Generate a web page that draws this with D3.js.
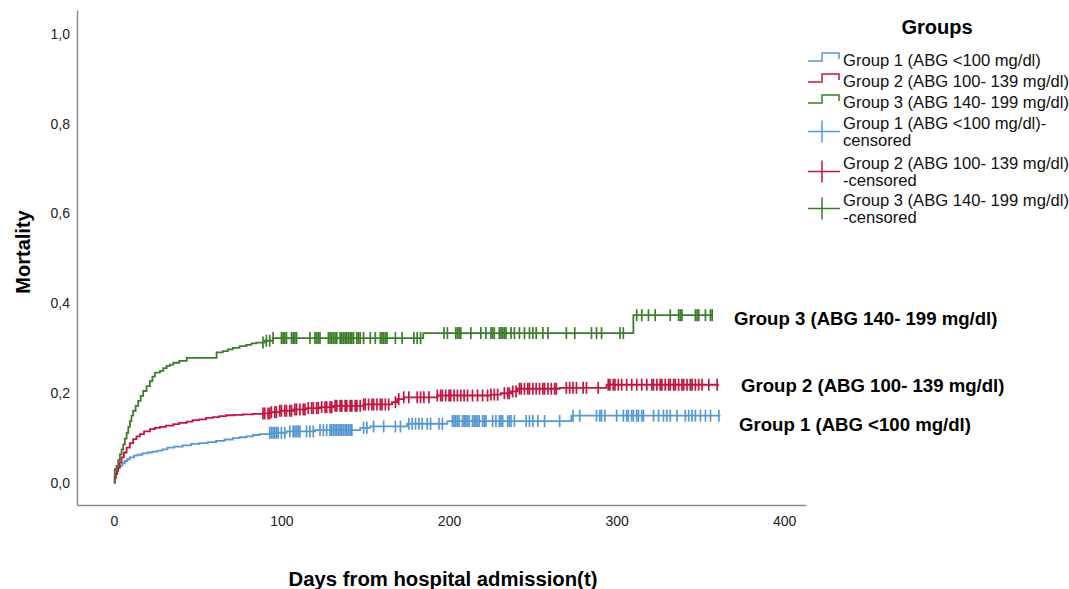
<!DOCTYPE html>
<html>

<head>
  <title>Mortality by ABG group</title>
  <style>
    body { margin: 0; background: #fff; }
    text { font-family: "Liberation Sans", Arial, sans-serif; }
  </style>
</head>

<body>
  <svg id="svg"></svg>

  <script src="https://d3js.org/d3.v7.min.js"></script>
  <script>
    let width = 1069, height = 589;

    // group names
    let groupNames = ["Group 1 (ABG <100 mg/dl)", "Group 2 (ABG 100- 139 mg/dl)", "Group 3 (ABG 140- 199 mg/dl)"];

    // step points: day of event and cumulative mortality after it
    let g1Days = [0, 0.5, 1.5, 2.5, 3.5, 5, 6.5, 8, 9.5, 12, 14, 17, 20, 23, 26, 29, 32, 36, 41, 46, 51, 56, 61, 66, 71, 75, 79, 83, 87, 93, 103, 120, 147, 153, 175, 199, 273];
    let g1Mort = [0, 0.019, 0.03, 0.034, 0.037, 0.043, 0.048, 0.052, 0.056, 0.06, 0.062, 0.065, 0.067, 0.069, 0.071, 0.074, 0.078, 0.08, 0.083, 0.086, 0.088, 0.09, 0.093, 0.096, 0.099, 0.101, 0.103, 0.106, 0.108, 0.111, 0.114, 0.117, 0.122, 0.125, 0.131, 0.137, 0.149];
    let g1End = 362;

    let g2Days = [0, 0.5, 1.2, 2, 2.6, 3.5, 4.6, 6, 7.6, 9.5, 11.5, 13.5, 15.5, 18, 21.5, 24.5, 27.5, 31, 35.5, 39, 43.5, 47, 51, 55, 59, 63, 67, 72, 77, 83, 89, 94, 99, 107, 115, 123, 131, 149, 166, 169, 173, 193, 225, 231, 237, 241, 266, 294];
    let g2Mort = [0, 0.01, 0.019, 0.026, 0.033, 0.045, 0.056, 0.067, 0.078, 0.088, 0.097, 0.103, 0.108, 0.114, 0.119, 0.122, 0.124, 0.127, 0.13, 0.133, 0.136, 0.139, 0.141, 0.144, 0.146, 0.148, 0.15, 0.151, 0.152, 0.153, 0.154, 0.157, 0.16, 0.163, 0.166, 0.168, 0.171, 0.174, 0.179, 0.186, 0.19, 0.194, 0.196, 0.199, 0.203, 0.209, 0.211, 0.218];
    let g2End = 361;

    let g3Days = [0, 0.6, 1.6, 2.6, 3.6, 4.6, 5.6, 6.6, 7.6, 8.6, 9.6, 10.5, 11.5, 13, 14.5, 16, 17.5, 19.5, 21.5, 23, 24.5, 27.5, 29.5, 31.5, 33.5, 35.5, 39, 43.5, 61.3, 65, 68, 71, 75, 79, 82, 85, 90, 95, 184.6, 310];
    let g3Mort = [0, 0.03, 0.037, 0.05, 0.063, 0.074, 0.085, 0.098, 0.111, 0.124, 0.137, 0.149, 0.16, 0.171, 0.182, 0.193, 0.204, 0.215, 0.226, 0.236, 0.245, 0.249, 0.255, 0.26, 0.263, 0.267, 0.271, 0.278, 0.29, 0.293, 0.297, 0.3, 0.304, 0.307, 0.31, 0.312, 0.316, 0.322, 0.333, 0.373];
    let g3End = 357.6;

    // censored observations (days)
    let g1Censor = [93, 94, 95, 96, 97, 98, 100, 102, 105, 107, 108, 109, 110, 111, 115, 117, 119, 123, 125, 127, 129, 130, 131, 132, 133, 134, 135, 136, 137, 138, 139, 140, 141, 142, 149, 151, 155, 161, 168, 171, 176, 178, 180, 182, 184, 187, 189, 194, 196, 202, 203, 204, 205, 206, 208, 209, 210, 211, 212, 214, 215, 216, 217, 218, 220, 221, 222, 226, 228, 230, 231, 232, 235, 236, 237, 239, 246, 248, 250, 253, 257, 266, 274, 278, 288, 290, 291, 293, 300, 304, 306, 307, 309, 310, 312, 313, 315, 316, 322, 325, 328, 330, 332, 336, 341, 343, 345, 347, 350, 353, 356, 361];
    let g2Censor = [89, 90, 92, 93, 94, 96, 97, 99, 100, 102, 103, 105, 106, 108, 109, 111, 113, 114, 116, 118, 119, 121, 122, 124, 126, 127, 129, 130, 132, 133, 135, 136, 138, 139, 141, 142, 144, 145, 147, 149, 150, 152, 154, 155, 157, 159, 160, 162, 164, 168, 170, 173, 176, 181, 183, 185, 188, 193, 195, 196, 198, 200, 201, 203, 205, 207, 209, 211, 214, 217, 220, 223, 225, 227, 229, 233, 235, 236, 238, 240, 242, 243, 245, 247, 248, 250, 252, 254, 256, 257, 259, 261, 263, 264, 270, 272, 274, 276, 280, 282, 289, 295, 296, 298, 299, 301, 303, 306, 309, 312, 315, 318, 321, 322, 324, 326, 327, 329, 331, 332, 334, 335, 337, 339, 340, 342, 344, 345, 347, 349, 351, 355, 360];
    let g3Censor = [89, 91, 93, 95, 100, 101, 102, 103, 106, 107, 108, 109, 117, 120, 121, 122, 123, 128, 129, 130, 131, 132, 133, 135, 136, 137, 138, 139, 140, 141, 142, 143, 145, 146, 147, 149, 153, 156, 159, 160, 161, 162, 163, 168, 172, 179, 181, 183, 197, 199, 204, 205, 206, 207, 213, 219, 222, 225, 226, 227, 230, 231, 232, 233, 234, 237, 239, 242, 245, 248, 250, 252, 256, 259, 270, 275, 285, 288, 291, 302, 304, 312, 315, 319, 323, 332, 337, 338, 339, 347, 348, 349, 353, 356, 357];

    let xTicks = [0, 100, 200, 300, 400];
    let yTicks = [0, 0.2, 0.4, 0.6, 0.8, 1.0];

    let colors = ["#5797d3", "#c4143f", "#3c7d2c"];

    let groups = [
      { days: g1Days, mort: g1Mort, end: g1End, censor: g1Censor },
      { days: g2Days, mort: g2Mort, end: g2End, censor: g2Censor },
      { days: g3Days, mort: g3Mort, end: g3End, censor: g3Censor }
    ];

    let svg = d3.select("#svg")
      .attr("width", width)
      .attr("height", height);

    svg.append("rect").attr("width", width).attr("height", height).attr("fill", "#fff");

    let x = d3.scaleLinear().domain([-22, 413]).range([77, 806]);
    let y = d3.scaleLinear().domain([-0.05, 1.053]).range([505, 10]);

    // axes
    let xAxis = svg.append("g")
      .attr("transform", `translate(0, ${y.range()[0]})`)
      .call(d3.axisBottom(x).tickValues(xTicks).tickSize(0).tickPadding(11).tickSizeOuter(0));

    let yAxis = svg.append("g")
      .attr("transform", `translate(${x.range()[0]}, 0)`)
      .call(d3.axisLeft(y).tickValues(yTicks).tickSize(0).tickPadding(7).tickSizeOuter(0)
        .tickFormat(d => d3.format(".1f")(d).replace(".", ",")));

    [xAxis, yAxis].forEach(a => {
      a.select(".domain").attr("stroke", "#8a8a8a").attr("stroke-width", 1.5);
      a.selectAll("text").attr("font-size", 14).attr("fill", "#222")
        .style("font-family", "'Liberation Sans', Arial, sans-serif");
    });

    svg.append("text")
      .attr("x", 443).attr("y", 586)
      .attr("text-anchor", "middle")
      .attr("font-size", 20.3).attr("font-weight", "bold")
      .text("Days from hospital admission(t)");

    svg.append("text")
      .attr("transform", "translate(30, 252) rotate(-90)")
      .attr("text-anchor", "middle")
      .attr("font-size", 20).attr("font-weight", "bold")
      .text("Mortality");

    // step curves
    let line = d3.line().curve(d3.curveStepAfter).x(d => x(d[0])).y(d => y(d[1]));

    groups.forEach((g, i) => {
      let pts = g.days.map((d, j) => [d, g.mort[j]]);
      pts.push([g.end, g.mort[g.mort.length - 1]]);
      let bis = d3.bisector(d => d).right;
      let valueAt = t => g.mort[Math.max(0, bis(g.days, t) - 1)];

      let layer = svg.append("g");
      layer.append("path")
        .datum(pts)
        .attr("d", line)
        .attr("fill", "none")
        .attr("stroke", colors[i])
        .attr("stroke-width", 1.8);

      layer.selectAll("line")
        .data(g.censor)
        .join("line")
        .attr("x1", d => x(d)).attr("x2", d => x(d))
        .attr("y1", d => y(valueAt(d)) - 6)
        .attr("y2", d => y(valueAt(d)) + 6)
        .attr("stroke", colors[i])
        .attr("stroke-width", 1.7);
    });

    // labels at the end of the curves
    let endLabels = [
      { text: groupNames[0], x: 739, y: 424 },
      { text: groupNames[1], x: 741, y: 385 },
      { text: groupNames[2], x: 734, y: 318 }
    ];
    svg.selectAll(".endLabel")
      .data(endLabels)
      .join("text")
      .attr("class", "endLabel")
      .attr("x", d => d.x).attr("y", d => d.y)
      .attr("dy", "0.35em")
      .attr("font-size", 18.6).attr("font-weight", "bold")
      .text(d => d.text);

    // legend
    let legend = svg.append("g");
    legend.append("text")
      .attr("x", 937).attr("y", 27).attr("dy", "0.35em")
      .attr("text-anchor", "middle")
      .attr("font-size", 20).attr("font-weight", "bold")
      .text("Groups");

    let stepRows = [60, 81, 102];
    stepRows.forEach((ry, i) => {
      legend.append("path")
        .attr("d", `M808,${ry + 1}H822V${ry - 7}H839V${ry - 1}`)
        .attr("fill", "none").attr("stroke", colors[i]).attr("stroke-width", 1.5);
      legend.append("text")
        .attr("x", 843).attr("y", ry).attr("dy", "0.35em")
        .attr("font-size", 16.6).attr("fill", "#111")
        .text(groupNames[i]);
    });

    let censorRows = [[123, 140], [163, 180], [200, 217]];
    let censorLines = [[groupNames[0] + "-", "censored"], [groupNames[1], "-censored"], [groupNames[2], "-censored"]];
    censorRows.forEach((r, i) => {
      let cy = (r[0] + r[1]) / 2;
      legend.append("path")
        .attr("d", `M808,${cy}H840M822,${cy - 11}V${cy + 11}`)
        .attr("fill", "none").attr("stroke", colors[i]).attr("stroke-width", 1.5);
      r.forEach((ry, k) => {
        legend.append("text")
          .attr("x", 843).attr("y", ry).attr("dy", "0.35em")
          .attr("font-size", 16.6).attr("fill", "#111")
          .text(censorLines[i][k]);
      });
    });
  </script>
</body>

</html>
